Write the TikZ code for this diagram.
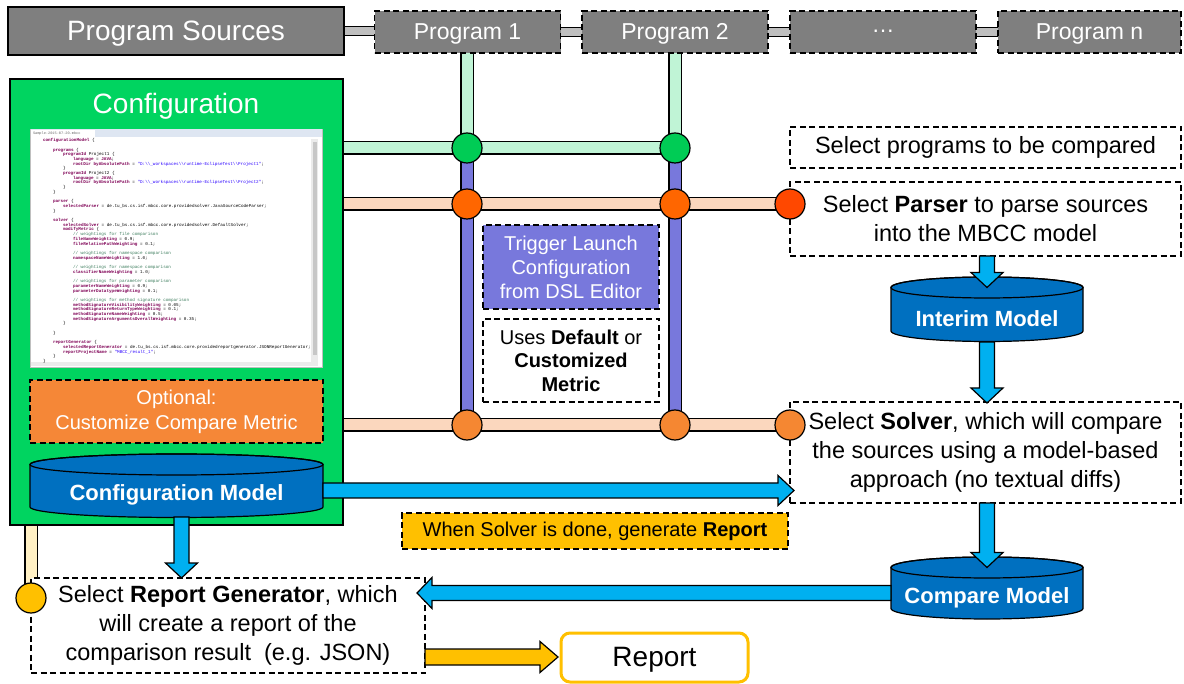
\documentclass[tikz,border=0pt]{standalone}
\usepackage{fontspec}
\setmainfont{Liberation Sans}
\newfontfamily\codefont{Liberation Mono}
\usetikzlibrary{calc,backgrounds}
\definecolor{gbox}{RGB}{127,127,127}
\definecolor{gbar}{RGB}{191,191,191}
\definecolor{cfgc}{RGB}{0,212,96}
\definecolor{lgreen}{RGB}{192,244,214}
\definecolor{cgreen}{RGB}{0,204,85}
\definecolor{peach}{RGB}{251,215,190}
\definecolor{corange}{RGB}{255,102,0}
\definecolor{cred}{RGB}{255,72,0}
\definecolor{lorange}{RGB}{245,135,50}
\definecolor{purp}{RGB}{120,120,220}
\definecolor{cylblue}{RGB}{0,112,192}
\definecolor{arrblue}{RGB}{0,176,240}
\definecolor{goldc}{RGB}{255,192,0}
\definecolor{pale}{RGB}{255,240,196}
\definecolor{optor}{RGB}{245,135,55}
\definecolor{kwc}{RGB}{127,0,85}
\definecolor{strc}{RGB}{42,0,255}
\definecolor{cmtc}{RGB}{63,127,95}
\definecolor{tabc}{RGB}{222,230,242}
\newcommand\fsz[2]{\fontsize{#1}{#2}\selectfont}
\newcommand\kwd[1]{\textcolor{kwc}{\bfseries #1}}
\newcommand\cstr[1]{\textcolor{strc}{#1}}
\newcommand\cmt[1]{\textcolor{cmtc}{#1}}
\newcommand\ia{\hspace*{10pt}}
\newcommand\bsl{\textbackslash}
% block arrows
\newcommand\arrdown[3]{%
 \draw[#1] ($(#2)+(-7.5pt,0pt)$) -- ($(#3)+(-7.5pt,15pt)$) -- ($(#3)+(-16pt,15pt)$) -- (#3)
   -- ($(#3)+(16pt,15pt)$) -- ($(#3)+(7.5pt,15pt)$) -- ($(#2)+(7.5pt,0pt)$) -- cycle;}
\newcommand\arrright[6]{%
 \draw[#1] ($(#2)+(0pt,#4)$) -- ($(#3)+(-#6,#4)$) -- ($(#3)+(-#6,#5)$) -- (#3)
   -- ($(#3)+(-#6,-#5)$) -- ($(#3)+(-#6,-#4)$) -- ($(#2)+(0pt,-#4)$) -- cycle;}
\newcommand\arrleft[6]{%
 \draw[#1] ($(#2)+(0pt,#4)$) -- ($(#3)+(#6,#4)$) -- ($(#3)+(#6,#5)$) -- (#3)
   -- ($(#3)+(#6,-#5)$) -- ($(#3)+(#6,-#4)$) -- ($(#2)+(0pt,-#4)$) -- cycle;}
% cylinder: x1,x2,top-ellipse-center y, bottom y, rx
\newcommand\cylinder[5]{%
 \filldraw[fill=cylblue, draw=black, line width=1.2pt] (#1,#3) -- (#1,#4)
   arc[start angle=180, end angle=360, x radius=#5 pt, y radius=10.5pt] -- (#2,#3)
   arc[start angle=0, end angle=180, x radius=#5 pt, y radius=10.5pt] -- cycle;
 \draw[line width=1.2pt] ($(#1,#3)!0.5!(#2,#3)$) ellipse[x radius=#5 pt, y radius=10.5pt];}
\tikzset{
 every node/.style={inner sep=0pt, outer sep=0pt},
 dsh/.style={draw=black, line width=1.1pt, dash pattern=on 6pt off 3.5pt},
 srcbox/.style={draw=black, line width=1.2pt, fill=gbox, text=white, minimum width=336pt,
   minimum height=48pt, text depth=0.5pt, font=\fsz{28}{32}},
 progbox/.style={dsh, fill=gbox, text=white, minimum width=186pt, minimum height=42pt,
   text depth=0.5pt, font=\fsz{23}{27}},
 bar/.style={line width=1.2pt, double=gbar, double distance=8pt},
 track/.style={line width=1.5pt, double distance=11pt},
 dot/.style={circle, draw=black, line width=1.2pt, minimum size=30pt},
 txtbox/.style={dsh, fill=white, align=center, font=\fsz{23.5}{29}},
 smallbox/.style={dsh, align=center, minimum width=176pt, font=\fsz{20}{24}},
 cyltext/.style={text=white, font=\bfseries\fsz{22}{26}},
 barrow/.style={fill=arrblue, draw=black, line width=1.2pt, line join=miter},
 garrow/.style={fill=goldc, draw=black, line width=1.2pt, line join=miter},
}
\begin{document}
\begin{tikzpicture}[x=1pt,y=-1pt]
\useasboundingbox (0,0) rectangle (1184,684);

% ---------- top row ----------
\node[srcbox] (src) at (176,31) {Program Sources};
\node[progbox] (p1) at (467.5,32) {Program 1};
\node[progbox] (p2) at (675,32) {Program 2};
\node[progbox] (p3) at (883,32) {…};
\node[progbox, minimum width=183pt] (pn) at (1089.5,32) {Program n};

% ---------- configuration ----------
\node[draw=black, line width=1.2pt, fill=cfgc, minimum width=333pt, minimum height=446pt] (cfg) at (176.5,302) {};
\node[text=white, text depth=0.5pt, font=\fsz{28}{32}] (cfgtitle) at (176,104) {Configuration};

% screenshot
\node[draw=black!25, line width=0.6pt, fill=white, minimum width=292pt, minimum height=238pt] (shot) at (176,248) {};
\fill[tabc] (30.5,129.5) rectangle (321.5,137.5);
\fill[white] (31,130) rectangle (95,137.5);
\node[anchor=west, text=black!60, font=\codefont\fsz{3.6}{4}] (tab) at (33,133.5) {Sample-2015-07-20.mbcc};
\fill[black!8] (311,139) rectangle (318,362);
\fill[black!22] (312.5,142) rectangle (316.5,355);
\fill[black!8] (31,362) rectangle (318,366.5);
\node[anchor=north west, align=left, font=\codefont\fsz{4.3}{4.7}] (code) at (43,138.5) {%
\kwd{configurationModel} \{\\
\mbox{}\\
\ia\kwd{programs} \{\\
\ia\ia\kwd{programId} Project1 \{\\
\ia\ia\ia\kwd{language} = \kwd{JAVA};\\
\ia\ia\ia\kwd{rootDir} \kwd{byAbsolutePath} = \cstr{"D:\bsl\bsl\_workspaces\bsl\bsl runtime-EclipseTest\bsl\bsl Project1"};\\
\ia\ia\}\\
\ia\ia\kwd{programId} Project2 \{\\
\ia\ia\ia\kwd{language} = \kwd{JAVA};\\
\ia\ia\ia\kwd{rootDir} \kwd{byAbsolutePath} = \cstr{"D:\bsl\bsl\_workspaces\bsl\bsl runtime-EclipseTest\bsl\bsl Project2"};\\
\ia\ia\}\\
\ia\}\\
\mbox{}\\
\ia\kwd{parser} \{\\
\ia\ia\kwd{selectedParser} = de.tu\_bs.cs.isf.mbcc.core.providedsolver.JavaSourceCodeParser;\\
\ia\}\\
\mbox{}\\
\ia\kwd{solver} \{\\
\ia\ia\kwd{selectedSolver} = de.tu\_bs.cs.isf.mbcc.core.providedsolver.DefaultSolver;\\
\ia\ia\kwd{modifyMetric} \{\\
\ia\ia\ia\cmt{// weightings for file comparison}\\
\ia\ia\ia\kwd{fileNameWeighting} = 0.9;\\
\ia\ia\ia\kwd{fileRelativePathWeighting} = 0.1;\\
\mbox{}\\
\ia\ia\ia\cmt{// weightings for namespace comparison}\\
\ia\ia\ia\kwd{namespaceNameWeighting} = 1.0;\\
\mbox{}\\
\ia\ia\ia\cmt{// weightings for namespace comparison}\\
\ia\ia\ia\kwd{classifierNameWeighting} = 1.0;\\
\mbox{}\\
\ia\ia\ia\cmt{// weightings for parameter comparison}\\
\ia\ia\ia\kwd{parameterNameWeighting} = 0.9;\\
\ia\ia\ia\kwd{parameterDatatypeWeighting} = 0.1;\\
\mbox{}\\
\ia\ia\ia\cmt{// weightings for method signature comparison}\\
\ia\ia\ia\kwd{methodSignatureVisibilityWeighting} = 0.05;\\
\ia\ia\ia\kwd{methodSignatureReturnTypeWeighting} = 0.1;\\
\ia\ia\ia\kwd{methodSignatureNameWeighting} = 0.5;\\
\ia\ia\ia\kwd{methodSignatureArgumentsOverallWeighting} = 0.35;\\
\ia\ia\}\\
\mbox{}\\
\ia\}\\
\mbox{}\\
\ia\kwd{reportGenerator} \{\\
\ia\ia\kwd{selectedReportGenerator} = de.tu\_bs.cs.isf.mbcc.core.providedreportgenerator.JSONReportGenerator;\\
\ia\ia\kwd{reportProjectName} = \cstr{"MBCC\_result\_1"};\\
\ia\}\\
\}};

\node[dsh, fill=optor, text=white, align=center, minimum width=293pt, minimum height=63pt,
  font=\fsz{20}{25}] (opt) at (176.5,411.5) {Optional:\\Customize Compare Metric};

% configuration model cylinder
\cylinder{30}{323}{464.5}{507}{146.5}
\node[cyltext] (cfgm) at (176.5,495) {Configuration Model};

% ---------- middle boxes ----------
\node[smallbox, fill=purp, text=white, minimum height=84pt] (trig) at (571,267) {Trigger Launch\\Configuration\\from DSL Editor};
\node[smallbox, fill=white, minimum height=83pt, font=\fsz{20}{23.5}] (uses) at (571,360.5) {Uses \textbf{Default} or\\\textbf{Customized}\\\textbf{Metric}};

% ---------- right column ----------
\node[txtbox, minimum width=391pt, minimum height=41pt] (selp) at (985.5,147.5) {Select programs to be compared};
\node[txtbox, minimum width=391pt, minimum height=74pt] (parser) at (985.5,219) {Select \textbf{Parser} to parse sources\\into the MBCC model};
\cylinder{891}{1083}{287.5}{331}{96}
\node[cyltext] (interim) at (987,319) {Interim Model};
\node[txtbox, minimum width=391pt, minimum height=101pt] (solver) at (985.5,452.5) {Select \textbf{Solver}, which will compare\\the sources using a model-based\\approach (no textual diffs)};
\cylinder{891}{1083}{567.5}{608.5}{96}
\node[cyltext] (cmpm) at (987,598) {Compare Model};

\node[dsh, fill=goldc, minimum width=386pt, minimum height=36pt, font=\fsz{20}{24}] (when) at (595,531) {When Solver is done, generate \textbf{Report}};
\node[txtbox, minimum width=394pt, minimum height=95pt] (rg) at (228,625.5) {Select \textbf{Report Generator}, which\\will create a report of the\\comparison result\ \ (e.g. JSON)};
\node[draw=goldc, line width=3pt, rounded corners=9pt, fill=white, minimum width=187pt, minimum height=49pt,
  text depth=0.5pt, font=\fsz{28}{32}] (report) at (654.5,657.5) {Report};

% ---------- tracks (behind) ----------
\coordinate (g1) at (467,148);
\coordinate (g2) at (675,148);
\coordinate (o1) at (467,204);
\coordinate (o2) at (675,204);
\coordinate (o3) at (790,204);
\coordinate (b1) at (467,425);
\coordinate (b2) at (675,425);
\coordinate (b3) at (790,425);
\coordinate (yc) at (31,598);
\begin{scope}[on background layer]
 \draw[bar] (src.east) -- (src.east -| p1.west);
 \draw[bar] (p1.east) -- (p2.west);
 \draw[bar] (p2.east) -- (p3.west);
 \draw[bar] (p3.east) -- (pn.west);
 \draw[track, double=lgreen] (cfg.east |- g1) -- (g2);
 \draw[track, double=peach] (cfg.east |- o1) -- (o3);
 \draw[track, double=peach] (cfg.east |- b1) -- (b3);
 \draw[track, double=lgreen] (p1.south -| g1) -- (g1);
 \draw[track, double=purp] (g1) -- (b1);
 \draw[track, double=lgreen] (p2.south -| g2) -- (g2);
 \draw[track, double=purp] (g2) -- (b2);
 \draw[track, double=pale] (cfg.south -| yc) -- (yc);
\end{scope}

% junction circles
\node[dot, fill=cgreen] (G1) at (g1) {};
\node[dot, fill=cgreen] (G2) at (g2) {};
\node[dot, fill=corange] (O1) at (o1) {};
\node[dot, fill=corange] (O2) at (o2) {};
\node[dot, fill=cred] (O3) at (o3) {};
\node[dot, fill=lorange] (B1) at (b1) {};
\node[dot, fill=lorange] (B2) at (b2) {};
\node[dot, fill=lorange] (B3) at (b3) {};
\node[dot, fill=goldc] (YC) at (yc) {};

% ---------- block arrows ----------
\coordinate (itop) at (987,287.5);
\coordinate (ibot) at (987,342);
\coordinate (ctop) at (987,567.5);
\coordinate (cmW) at (891,593);
\coordinate (cfgmS) at (181.5,517);
\coordinate (cfgmE) at (323,490.5);
\coordinate (a1s) at (itop |- parser.south);
\coordinate (a2e) at ($(solver.north -| ibot)+(0pt,-1pt)$);
\coordinate (a3s) at (solver.south -| ctop);
\coordinate (a4e) at (rg.north -| cfgmS);
\coordinate (a5e) at ($(solver.west |- cfgmE)+(4pt,0pt)$);
\coordinate (a6e) at ($(rg.east |- cmW)+(-8pt,0pt)$);
\coordinate (rgE) at (rg.east |- 0,657);
\coordinate (repW) at ($(report.west |- rgE)+(-3pt,0pt)$);

\arrdown{barrow}{a1s}{itop}
\arrdown{barrow}{ibot}{a2e}
\arrdown{barrow}{a3s}{ctop}
\arrdown{barrow}{cfgmS}{a4e}
\arrright{barrow}{cfgmE}{a5e}{7.5pt}{15pt}{16pt}
\arrleft{barrow}{cmW}{a6e}{7.5pt}{15.5pt}{15pt}
\arrright{garrow}{rgE}{repW}{8pt}{15.5pt}{18pt}
\end{tikzpicture}
\end{document}
